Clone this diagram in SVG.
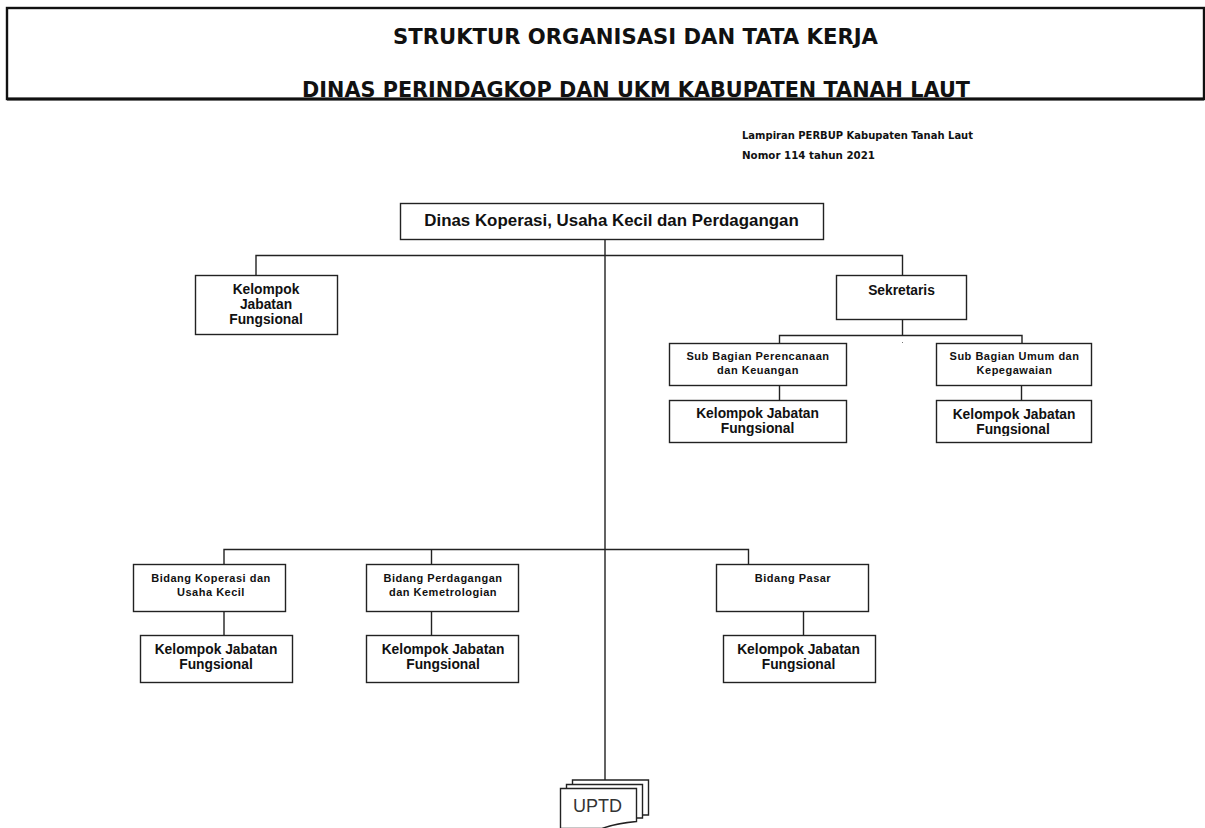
<svg xmlns="http://www.w3.org/2000/svg" width="1205" height="828" viewBox="0 0 1205 828">
<style>
.box{fill:#fff;stroke:#222;stroke-width:1.4}
.conn{fill:none;stroke:#222;stroke-width:1.4}
text{font-family:"Liberation Sans",Arial,sans-serif;font-weight:bold;fill:#111;text-anchor:middle}
.h{font-family:"DejaVu Sans",sans-serif;font-size:22px;text-anchor:start}
.n{font-family:"DejaVu Sans",sans-serif;font-size:11px;text-anchor:start}
.k{font-size:13.8px}
.s{font-size:11px;letter-spacing:.5px}
.t{font-size:16.9px}
.u{font-weight:normal;font-size:18px;fill:#333}
</style>
<defs><clipPath id="clip-umum"><rect x="936" y="400" width="156" height="36"/></clipPath></defs>
<rect width="1205" height="828" fill="#fff"/>
<g id="header">
<rect x="7" y="8" width="1197" height="91" fill="#fff" stroke="#111" stroke-width="2.400"/>
<rect x="7" y="97.500" width="1197" height="3" fill="#111"/>
<text class="h" x="393" y="43.500" textLength="485" lengthAdjust="spacingAndGlyphs">STRUKTUR ORGANISASI DAN TATA KERJA</text>
<text class="h" x="302" y="97" textLength="668" lengthAdjust="spacingAndGlyphs">DINAS PERINDAGKOP DAN UKM KABUPATEN TANAH LAUT</text>
</g>
<g id="note">
<text class="n" x="742" y="139" textLength="231" lengthAdjust="spacingAndGlyphs">Lampiran PERBUP Kabupaten Tanah Laut</text>
<text class="n" x="742" y="159" textLength="133" lengthAdjust="spacingAndGlyphs">Nomor 114 tahun  2021</text>
</g>
<g id="connectors">
<path class="conn" d="M605 239V782M256 275V255.500H902.500V275M902.500 320V335.500M779.500 343V335.500H1022V343M779.500 385V400M1021.500 385V400M224 564V549.500H748.500V564M431.500 549.500V564M224 611V635M431.500 611V635M803.500 611V635"/>
<rect x="902" y="342" width="1" height="1" fill="#777"/>
</g>
<g id="n-dinas"><rect class="box" x="400.500" y="203.500" width="423" height="36"/><text class="t" x="611.500" y="225.500">Dinas Koperasi, Usaha Kecil dan Perdagangan</text></g>
<g id="n-kjf-top"><rect class="box" x="195.500" y="275.500" width="142" height="59"/><text class="k" x="266" y="294">Kelompok</text><text class="k" x="266" y="309">Jabatan</text><text class="k" x="266" y="324">Fungsional</text></g>
<g id="n-sekretaris"><rect class="box" x="836.500" y="275.500" width="130" height="44"/><text class="k" x="901.500" y="295">Sekretaris</text></g>
<g id="n-subren"><rect class="box" x="669.500" y="343.500" width="177" height="42"/><text class="s" x="758" y="360">Sub Bagian Perencanaan</text><text class="s" x="758" y="374">dan Keuangan</text></g>
<g id="n-subumum"><rect class="box" x="936.500" y="343.500" width="155" height="42"/><text class="s" x="1014.500" y="360">Sub Bagian Umum dan</text><text class="s" x="1014.500" y="374">Kepegawaian</text></g>
<g id="n-kjf-ren"><rect class="box" x="669.500" y="400.500" width="177" height="42"/><text class="k" x="757.500" y="418">Kelompok Jabatan</text><text class="k" x="757.500" y="433">Fungsional</text></g>
<g id="n-kjf-umum"><rect class="box" x="936.500" y="400.500" width="155" height="42"/><text class="k" x="1014" y="419">Kelompok Jabatan</text><text class="k" x="1013" y="434" clip-path="url(#clip-umum)">Fungsional</text></g>
<g id="n-koperasi"><rect class="box" x="133.500" y="564.500" width="152" height="47"/><text class="s" x="211" y="582">Bidang Koperasi dan</text><text class="s" x="211" y="596">Usaha Kecil</text></g>
<g id="n-perdagangan"><rect class="box" x="366.500" y="564.500" width="152" height="47"/><text class="s" x="443" y="582">Bidang Perdagangan</text><text class="s" x="443" y="596">dan Kemetrologian</text></g>
<g id="n-pasar"><rect class="box" x="716.500" y="564.500" width="152" height="47"/><text class="s" x="793" y="582">Bidang Pasar</text></g>
<g id="n-kjf-kop"><rect class="box" x="140.500" y="635.500" width="152" height="47"/><text class="k" x="216" y="654">Kelompok Jabatan</text><text class="k" x="216" y="669">Fungsional</text></g>
<g id="n-kjf-per"><rect class="box" x="366.500" y="635.500" width="152" height="47"/><text class="k" x="443" y="654">Kelompok Jabatan</text><text class="k" x="443" y="669">Fungsional</text></g>
<g id="n-kjf-pas"><rect class="box" x="723.500" y="635.500" width="152" height="47"/><text class="k" x="798.500" y="654">Kelompok Jabatan</text><text class="k" x="798.500" y="669">Fungsional</text></g>
<g id="n-uptd">
<path class="box" d="M572.500 780H648.500V815H572.500Z"/>
<path class="box" d="M566.500 784.500H642.500V818H566.500Z"/>
<path class="box" d="M560.500 788.500H636.500V821.500C625 822.500 612 825 602 828.500H560.500Z"/>
<text class="u" x="597.500" y="812">UPTD</text>
</g>
</svg>
